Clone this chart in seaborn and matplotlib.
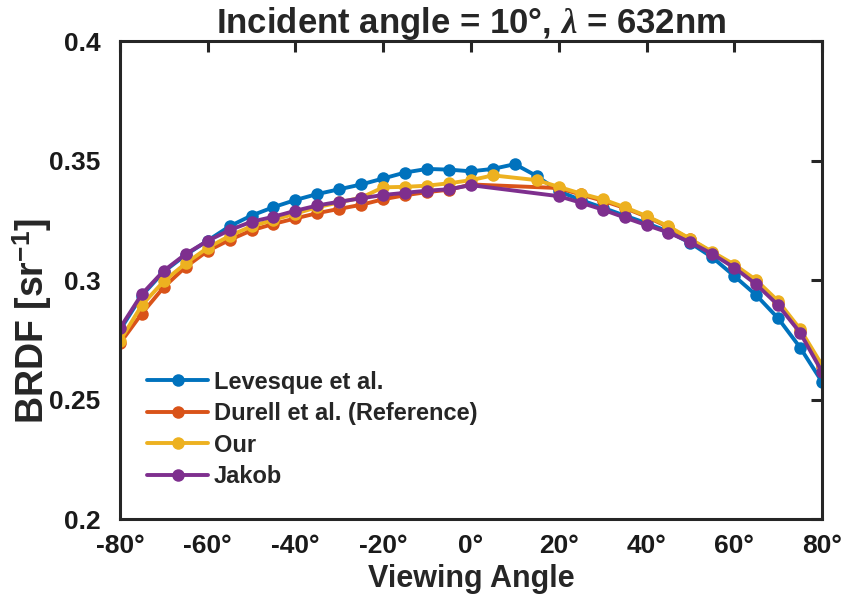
import matplotlib
matplotlib.use("Agg")
import matplotlib.pyplot as plt
import seaborn as sns
import pandas as pd
from matplotlib.ticker import FixedLocator, FuncFormatter

# ---- data ----
series_names = ["Levesque et al.", "Durell et al. (Reference)", "Our", "Jakob"]
series_colors = ["#0072BD", "#D95319", "#EDB120", "#7E2F8E"]

lev_x = [-80, -75, -70, -65, -60, -55, -50, -45, -40, -35, -30, -25, -20, -15, -10, -5,
         0, 5, 10, 15, 20, 25, 30, 35, 40, 45, 50, 55, 60, 65, 70, 75, 80]
lev_y = [0.2790, 0.2935, 0.3035, 0.3105, 0.3165, 0.3225, 0.3270, 0.3305, 0.3335, 0.3360,
         0.3380, 0.3400, 0.3425, 0.3450, 0.3465, 0.3462, 0.3455, 0.3465, 0.3485, 0.3435,
         0.3372, 0.3335, 0.3303, 0.3270, 0.3238, 0.3203, 0.3155, 0.3095, 0.3017, 0.2937,
         0.2840, 0.2718, 0.2574]

dur_x = [-80, -75, -70, -65, -60, -55, -50, -45, -40, -35, -30, -25, -20, -15, -10, -5,
         0, 20, 25, 30, 35, 40, 45, 50, 55, 60, 65, 70, 75, 80]
dur_y = [0.2735, 0.2860, 0.2970, 0.3055, 0.3122, 0.3168, 0.3208, 0.3235, 0.3258, 0.3280,
         0.3298, 0.3315, 0.3338, 0.3355, 0.3368, 0.3378, 0.3400, 0.3385, 0.3358, 0.3332,
         0.3302, 0.3265, 0.3222, 0.3170, 0.3115, 0.3060, 0.2995, 0.2905, 0.2785, 0.2635]

our_x = [-80, -75, -70, -65, -60, -55, -50, -45, -40, -35, -30, -25, -20, -15, -10, -5,
         0, 5, 15, 20, 25, 30, 35, 40, 45, 50, 55, 60, 65, 70, 75, 80]
our_y = [0.2745, 0.2895, 0.2995, 0.3070, 0.3135, 0.3185, 0.3225, 0.3252, 0.3278, 0.3305,
         0.3325, 0.3345, 0.3388, 0.3390, 0.3395, 0.3405, 0.3418, 0.3438, 0.3418, 0.3390,
         0.3362, 0.3338, 0.3305, 0.3268, 0.3225, 0.3172, 0.3118, 0.3065, 0.3000, 0.2912,
         0.2795, 0.2644]

jak_x = [-80, -75, -70, -65, -60, -55, -50, -45, -40, -35, -30, -25, -20, -15, -10, -5,
         0, 20, 25, 30, 35, 40, 45, 50, 55, 60, 65, 70, 75, 80]
jak_y = [0.2798, 0.2941, 0.3039, 0.3109, 0.3164, 0.3209, 0.3244, 0.3265, 0.3290, 0.3312,
         0.3328, 0.3342, 0.3356, 0.3365, 0.3374, 0.3380, 0.3397, 0.3351, 0.3324, 0.3295,
         0.3262, 0.3230, 0.3199, 0.3158, 0.3109, 0.3052, 0.2982, 0.2895, 0.2780, 0.2616]

x_ticks = [-80, -60, -40, -20, 0, 20, 40, 60, 80]
y_ticks = [0.2, 0.25, 0.3, 0.35, 0.4]
y_tick_labels = ["0.2", "0.25", "0.3", "0.35", "0.4"]

title_text = "Incident angle = 10°, $\\lambda$ = 632nm"
x_label = "Viewing Angle"
y_label = "BRDF [sr$^{-1}$]"

# ---- style ----
sns.set_theme(style="white")
plt.rcParams["font.family"] = ["Liberation Sans", "DejaVu Sans"]
plt.rcParams["font.weight"] = "bold"
plt.rcParams["mathtext.fontset"] = "custom"
plt.rcParams["mathtext.rm"] = "Liberation Sans:bold"
plt.rcParams["mathtext.it"] = "Liberation Serif:italic"
plt.rcParams["mathtext.bf"] = "Liberation Sans:bold"

fig = plt.figure(figsize=(8.44, 6.03), dpi=100)
ax = fig.add_axes([0.142, 0.139, 0.832, 0.793])

frames = []
for name, xs, ys in zip(series_names, [lev_x, dur_x, our_x, jak_x], [lev_y, dur_y, our_y, jak_y]):
    frames.append(pd.DataFrame({"angle": xs, "brdf": ys, "series": name}))
df = pd.concat(frames, ignore_index=True)

for name, color in zip(series_names, series_colors):
    sub = df[df["series"] == name]
    sns.lineplot(data=sub, x="angle", y="brdf", ax=ax, color=color, label=name,
                 marker="o", markersize=9, markeredgewidth=0, linewidth=2.8,
                 sort=False, estimator=None)

ax.set_xlim(-80, 80)
ax.set_ylim(0.2, 0.4)
ax.xaxis.set_major_locator(FixedLocator(x_ticks))
ax.xaxis.set_major_formatter(FuncFormatter(lambda v, p: f"{int(round(v))}°"))
ax.set_yticks(y_ticks)
ax.set_yticklabels(y_tick_labels)

ax.tick_params(axis="both", which="both", direction="in", length=8, width=2.2,
               top=True, right=True, labelsize=19, colors="#262626")
ax.tick_params(axis="x", pad=11)
ax.tick_params(axis="y", pad=14)
for lab in ax.get_xticklabels() + ax.get_yticklabels():
    lab.set_fontweight("bold")
    lab.set_color("#1a1a1a")
for sp in ax.spines.values():
    sp.set_visible(True)
    sp.set_linewidth(2.2)
    sp.set_color("#262626")

ax.set_title(title_text, fontsize=25, fontweight="bold", pad=6)
ax.set_xlabel(x_label, fontsize=22, fontweight="bold", labelpad=4)
ax.set_ylabel(y_label, fontsize=27, fontweight="bold")
ax.yaxis.set_label_coords(-0.094, 0.415)

leg = ax.legend(loc="lower left", bbox_to_anchor=(0.025, 0.045), frameon=False,
                fontsize=17, handlelength=2.6, handletextpad=0.25, labelspacing=0.36,
                borderaxespad=0.0)
for t in leg.get_texts():
    t.set_fontweight("bold")

fig.savefig("out.png", dpi=100, facecolor="white")
